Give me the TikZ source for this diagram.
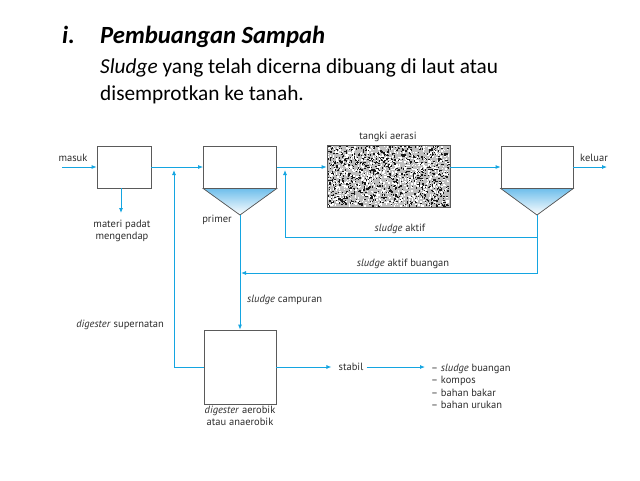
\documentclass[tikz,border=0pt]{standalone}
\usepackage{fontspec}
\setmainfont{Carlito}
\newfontfamily\diafont{PT Sans}
\usetikzlibrary{arrows.meta}
\definecolor{pipeblue}{RGB}{20,165,225}
\definecolor{conetop}{RGB}{110,190,235}
\definecolor{boxgray}{RGB}{90,90,90}
\definecolor{txtgray}{RGB}{45,45,45}

\tikzset{
  pipe/.style={draw=pipeblue,line width=0.8pt,-{Latex[length=5pt,width=4pt]}},
  unit/.style={draw=boxgray,line width=0.8pt,inner sep=0pt},
  cone/.style={draw=boxgray,line width=0.7pt,top color=conetop,bottom color=white},
  lbl/.style={font=\diafont\fontsize{10.5}{12.2}\selectfont,text=txtgray,inner sep=1pt},
  head/.style={font=\fontsize{24.7}{28}\selectfont\bfseries\itshape,anchor=base west,inner sep=0pt},
  body/.style={font=\fontsize{21.3}{25}\selectfont,anchor=base west,inner sep=0pt}
}

\begin{document}
\begin{tikzpicture}[x=1pt,y=-1pt]
\useasboundingbox (0,0) rectangle (640,480);
% heading
\node[head] (nr) at (62,43) {i.};
\node[head] (judul) at (100,43) {Pembuangan Sampah};
\node[body] (baris1) at (100,73) {\textit{Sludge} yang telah dicerna dibuang di laut atau};
\node[body] (baris2) at (100,100) {disemprotkan ke tanah.};

% aeration tank texture
\fill[gray!50] (327,145) rectangle (450,207);
\pgfmathsetseed{11}
\foreach \i in {1,...,1100}{
  \pgfmathsetmacro\tx{327+121.6*rnd}
  \pgfmathsetmacro\ty{145+60.6*rnd}
  \fill[black!90] (\tx,\ty) rectangle ++(1.4,1.4);
}
\foreach \i in {1,...,900}{
  \pgfmathsetmacro\tx{327+121.6*rnd}
  \pgfmathsetmacro\ty{145+60.6*rnd}
  \fill[white] (\tx,\ty) rectangle ++(1.4,1.4);
}

% units
\node[unit,minimum width=54pt,minimum height=42pt] (bak) at (124,167) {};
\node[unit,minimum width=73pt,minimum height=42pt] (primer) at (240,167) {};
\node[unit,minimum width=123pt,minimum height=62pt] (tangki) at (388.5,176) {};
\node[unit,minimum width=72pt,minimum height=42pt] (akhir) at (537,167) {};
\node[unit,minimum width=72pt,minimum height=74pt] (dig) at (240,367) {};
\coordinate (pa) at (240,215);
\coordinate (aa) at (537,215);
\filldraw[cone] (primer.south west) -- (primer.south east) -- (pa) -- cycle;
\filldraw[cone] (akhir.south west) -- (akhir.south east) -- (aa) -- cycle;

% labels
\node[lbl] (masuk) at (73,158) {masuk};
\node[lbl] (keluar) at (594,158) {keluar};
\node[lbl,align=center] (padat) at (122,231) {materi padat\\mengendap};
\node[lbl] (lprimer) at (217,220) {primer};
\node[lbl] (laerasi) at (388,137) {tangki aerasi};
\node[lbl] (laktif) at (400,229) {\textit{sludge} aktif};
\node[lbl] (lbuang) at (403,264) {\textit{sludge} aktif buangan};
\node[lbl,anchor=west] (lcampur) at (246,300) {\textit{sludge} campuran};
\node[lbl,anchor=east] (lsuper) at (165,325) {\textit{digester} supernatan};
\node[lbl,align=center,anchor=north] (ldig) at (dig.south) {\textit{digester} aerobik\\atau anaerobik};
\node[lbl] (stabil) at (351,367) {stabil};
\node[lbl,anchor=west] (h1) at (430,369) {– \textit{sludge} buangan};
\node[lbl,anchor=west] (h2) at (430,381) {– kompos};
\node[lbl,anchor=west] (h3) at (430,393) {– bahan bakar};
\node[lbl,anchor=west] (h4) at (430,405) {– bahan urukan};

% flows
\coordinate (masin) at (62,167);
\coordinate (kelout) at (607,167);
\coordinate (padatend) at (121,213);
\coordinate (j1) at (174,170);
\coordinate (j2) at (285,170);
\coordinate (k1) at (285,237);
\coordinate (k2) at (537,237);
\coordinate (k3) at (241,273);
\draw[pipe] (masin) -- (bak.west);
\draw[pipe] (bak.south -| padatend) -- (padatend);
\draw[pipe] (bak.east) -- (primer.west);
\draw[pipe] (primer.east) -- (tangki.west |- primer.east);
\draw[pipe] (tangki.east |- akhir.west) -- (akhir.west);
\draw[pipe] (akhir.east) -- (kelout);
\draw[pipe] (aa) |- (k1) -- (j2);
\draw[pipe] (k2) |- (k3);
\draw[pipe] (pa) -- (dig.north);
\draw[pipe] (dig.west) -| (j1);
\draw[pipe,shorten >=6pt] (dig.east) -- (dig.east -| stabil.west);
\draw[pipe,shorten <=2pt,shorten >=5pt] (stabil.east |- dig.east) -- (dig.east -| h1.west);
\end{tikzpicture}
\end{document}
